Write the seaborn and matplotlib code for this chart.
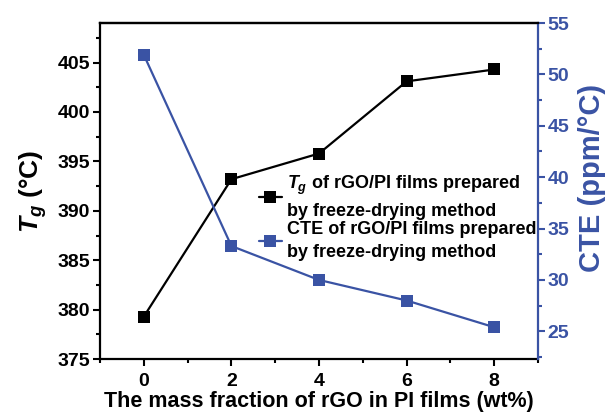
import numpy as np
import pandas as pd
import seaborn as sns
import matplotlib.pyplot as plt
plt.switch_backend('agg')

# data
mass_fraction = [0, 2, 4, 6, 8]
tg_values = [379.3, 393.2, 395.8, 403.1, 404.3]
cte_values = [51.9, 33.3, 30.0, 28.0, 25.4]

x_ticks = [0, 2, 4, 6, 8]
tg_ticks = [375, 380, 385, 390, 395, 400, 405]
cte_ticks = [25, 30, 35, 40, 45, 50, 55]

tg_label = '$T_g$ of rGO/PI films prepared\nby freeze-drying method'
cte_label = 'CTE of rGO/PI films prepared\nby freeze-drying method'

BLUE = '#3a53a4'

sns.set_style('ticks', {'axes.edgecolor': 'black', 'text.color': 'black',
                        'xtick.color': 'black', 'ytick.color': 'black',
                        'axes.labelcolor': 'black'})
plt.rcParams['font.family'] = ['Liberation Sans', 'DejaVu Sans']
plt.rcParams['font.weight'] = 'bold'
plt.rcParams['mathtext.fontset'] = 'custom'
plt.rcParams['mathtext.it'] = 'Liberation Sans:italic:bold'
plt.rcParams['mathtext.rm'] = 'Liberation Sans:bold'

df = pd.DataFrame({'x': mass_fraction, 'tg': tg_values, 'cte': cte_values})

fig = plt.figure(figsize=(6.10, 4.19), dpi=100)
ax = fig.add_axes([0.164, 0.143, 0.718, 0.802])
ax2 = ax.twinx()

sns.lineplot(data=df, x='x', y='tg', ax=ax, color='black', marker='s',
             markersize=8.5, markeredgewidth=0, linewidth=1.6, label=tg_label, legend=False)
sns.lineplot(data=df, x='x', y='cte', ax=ax2, color=BLUE, marker='s',
             markersize=8.5, markeredgewidth=0, linewidth=1.6, label=cte_label, legend=False)

ax.set_xlim(-1, 9)
ax.set_ylim(375, 409)
ax2.set_ylim(22.3, 54.9)

ax.set_xticks(x_ticks)
ax.set_xticks([-1, 1, 3, 5, 7, 9], minor=True)
ax.set_yticks(tg_ticks)
ax.set_yticks(np.arange(377.5, 409, 5), minor=True)
ax2.set_yticks(cte_ticks)
ax2.set_yticks(np.arange(22.5, 55, 5), minor=True)

ax.set_xlabel('The mass fraction of rGO in PI films (wt%)', fontsize=15.5, fontweight='bold', labelpad=1)
ax.set_ylabel('$T_g$ (°C)', fontsize=19, fontweight='bold', labelpad=6)
ax2.set_ylabel('CTE (ppm/°C)', fontsize=21, fontweight='bold', color=BLUE, labelpad=6)
ax2.yaxis.label.set_y(0.54)

for a in (ax, ax2):
    for s in a.spines.values():
        s.set_linewidth(1.6)
        s.set_visible(True)
ax.spines['right'].set_visible(False)
ax2.spines['right'].set_color(BLUE)
ax2.spines['left'].set_visible(False)
ax2.spines['bottom'].set_visible(False)

ax.tick_params(axis='both', which='major', length=5, width=1.5, labelsize=14, pad=2, direction='out')
ax.tick_params(axis='both', which='minor', length=3, width=1.5, direction='out')
ax.tick_params(axis='x', pad=5)
ax2.tick_params(axis='y', which='major', length=5, width=1.5, labelsize=14, pad=2,
                colors=BLUE, direction='out')
ax2.tick_params(axis='y', which='minor', length=3, width=1.5, colors=BLUE, direction='out')
for lab in ax.get_xticklabels() + ax.get_yticklabels() + ax2.get_yticklabels():
    lab.set_fontweight('bold')

handles = [ax.lines[0], ax2.lines[0]]
leg = ax.legend(handles, [tg_label, cte_label], loc='upper left', bbox_to_anchor=(0.362, 0.55),
                frameon=False, fontsize=13, handlelength=1.3, handletextpad=0.25,
                labelspacing=0.05, borderpad=0, borderaxespad=0)
for t in leg.get_texts():
    t.set_fontweight('bold')
    t.set_linespacing(1.45)

fig.savefig('out.png', dpi=100)
